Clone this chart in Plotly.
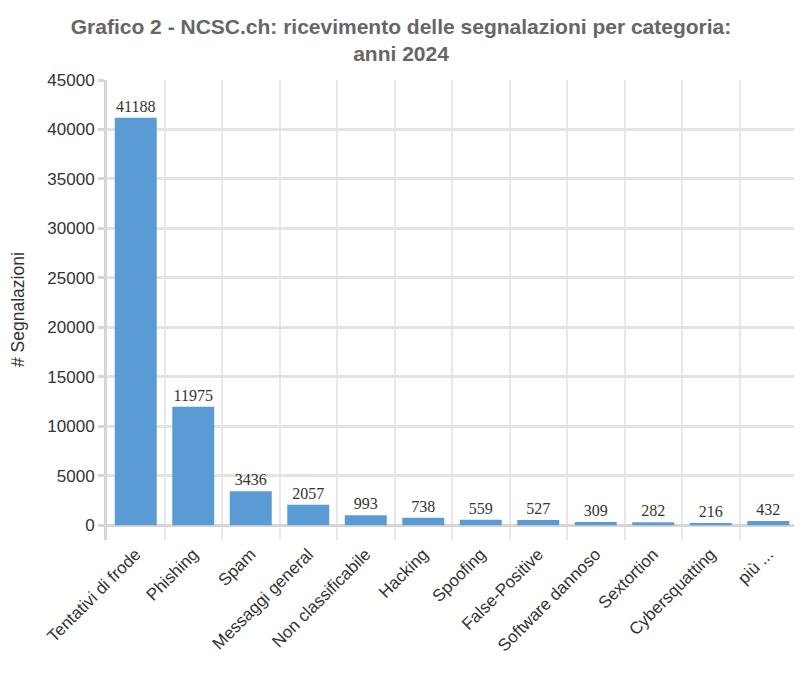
import plotly.graph_objects as go

categories = ["Tentativi di frode", "Phishing", "Spam", "Messaggi general", "Non classificabile",
              "Hacking", "Spoofing", "False-Positive", "Software dannoso", "Sextortion",
              "Cybersquatting", "più ..."]
values = [41188, 11975, 3436, 2057, 993, 738, 559, 527, 309, 282, 216, 432]
y_title = "# Segnalazioni"

fig = go.Figure(go.Bar(
    x=categories, y=values,
    marker=dict(color="#5b9bd5", line=dict(width=0)),
    text=[str(v) for v in values],
    textposition="outside",
    textfont=dict(family="Liberation Serif", size=16, color="#333333"),
    cliponaxis=False,
))

fig.update_layout(
    width=794, height=672,
    paper_bgcolor="white", plot_bgcolor="white",
    margin=dict(l=99, r=5, t=72, b=140),
    bargap=0.27,
    showlegend=False,
    title=dict(
        text="Grafico 2 - NCSC.ch: ricevimento delle segnalazioni per categoria:<br>anni 2024",
        x=0.495, xanchor="center", yref="container", y=1 - 26 / 672, yanchor="middle",
        font=dict(family="Liberation Sans", size=21, color="#666666", weight="bold"),
    ),
    font=dict(family="Liberation Sans", color="#333333"),
    annotations=[dict(
        text=y_title, textangle=-90,
        xref="paper", yref="paper", x=(10 - 99) / 690, y=0.5,
        xanchor="center", yanchor="middle", showarrow=False,
        font=dict(family="Liberation Sans", size=17.5, color="#333333"),
    )],
)

fig.update_xaxes(
    type="category",
    tickson="boundaries",
    showgrid=True, gridcolor="#e8e8e8", gridwidth=2,
    ticks="", tickangle=-45,
    tickfont=dict(family="Liberation Sans", size=17, color="#333333"),
    showline=False,
)
fig.update_yaxes(
    range=[-1500, 45000],
    tick0=0, dtick=5000, tickformat="d",
    showgrid=True, gridcolor="#e3e3e3", gridwidth=3,
    zeroline=True, zerolinecolor="#d6d6d6", zerolinewidth=3,
    showline=True, linecolor="#d6d6d6", linewidth=3,
    ticks="outside", ticklen=6, tickcolor="#d6d6d6", tickwidth=3,
    tickfont=dict(family="Liberation Sans", size=17, color="#333333"),
)

fig.write_html("out.html")
